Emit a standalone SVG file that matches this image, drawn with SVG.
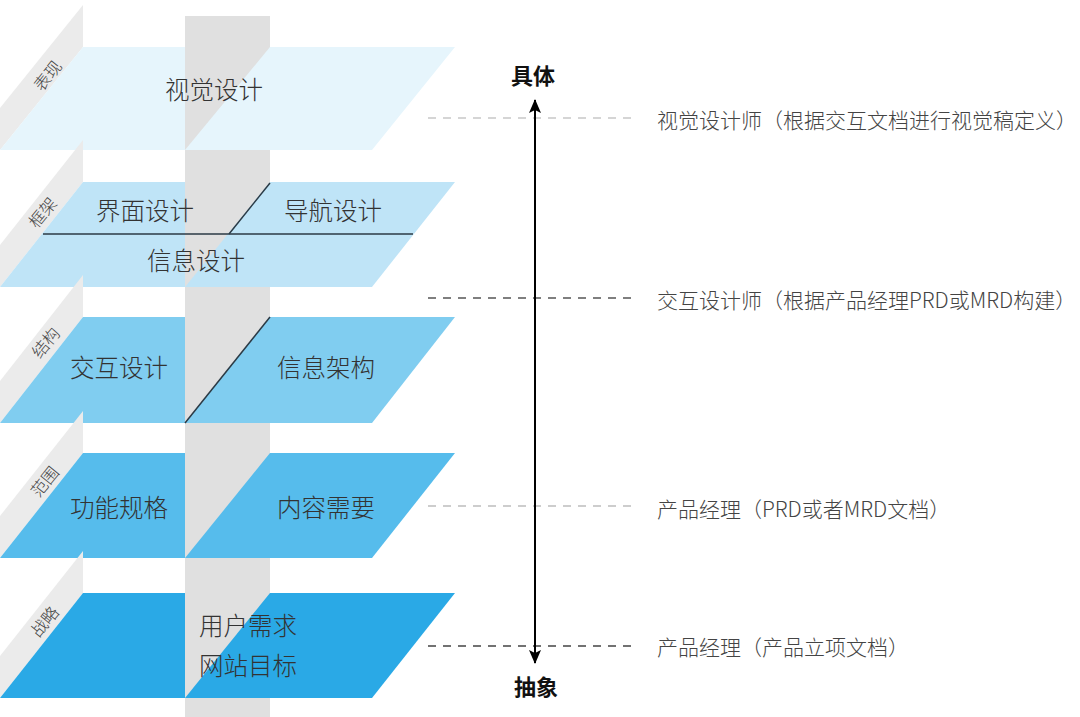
<svg xmlns="http://www.w3.org/2000/svg" width="1080" height="717" viewBox="0 0 1080 717">
<defs>
<style>
.band{fill:#ebebeb}
.col{fill:#e0e0e0}
.l1{fill:#e6f5fc}
.l2{fill:#bfe4f7}
.l3{fill:#80cdf0}
.l4{fill:#56bcec}
.l5{fill:#2aa9e6}
.t{font-family:"Noto Sans CJK SC","Noto Sans",sans-serif;font-size:24.5px;font-weight:300;fill:#333;dominant-baseline:central}
.lab{font-family:"Noto Sans CJK SC","Noto Sans",sans-serif;font-size:16.5px;font-weight:300;fill:#444;text-anchor:middle;dominant-baseline:central}
.r{font-family:"Noto Sans CJK SC","Noto Sans",sans-serif;font-size:21px;font-weight:300;fill:#444;dominant-baseline:central}
.ax{font-family:"Noto Sans CJK SC","Noto Sans",sans-serif;font-size:22px;font-weight:bold;fill:#111;text-anchor:middle;dominant-baseline:central}
.dk{stroke:#2b3a45;stroke-width:1.5;fill:none}
</style>
<marker id="ah" viewBox="0 0 14 14" refX="13" refY="7" markerWidth="14" markerHeight="14" markerUnits="userSpaceOnUse" orient="auto">
<path d="M0,1 L14,7 L0,13 L3,7 Z" fill="#000"/>
</marker>
</defs>
<rect width="1080" height="717" fill="#fff"/>
<rect class="col" x="185" y="16" width="85" height="701"/>

<g id="layer-biaoxian">
<polygon class="band" points="83,5 83,47 0,150 0,108"/>
<polygon class="l1" points="83,47 185,47 185,150 0,150"/>
<polygon class="l1" points="270,47 455,47 372,150 185,150"/>
<text class="lab" transform="translate(47,75) rotate(-51)">表现</text>
<text class="t" x="165" y="88">视觉设计</text>
</g>

<g id="layer-kuangjia">
<polygon class="band" points="83,140 83,182 0,287 0,245"/>
<polygon class="l2" points="83,182 185,182 185,287 0,287"/>
<polygon class="l2" points="270,182 455,182 372,287 185,287"/>
<line class="dk" x1="43" y1="234" x2="413" y2="234"/>
<line class="dk" x1="270" y1="183" x2="229" y2="234"/>
<text class="lab" transform="translate(42,212) rotate(-51)">框架</text>
<text class="t" x="96" y="209">界面设计</text>
<text class="t" x="284" y="209">导航设计</text>
<text class="t" x="147" y="259">信息设计</text>
</g>

<g id="layer-jiegou">
<polygon class="band" points="83,275 83,317 0,423 0,381"/>
<polygon class="l3" points="83,317 185,317 185,423 0,423"/>
<polygon class="l3" points="270,317 455,317 372,423 185,423"/>
<line class="dk" x1="270" y1="317" x2="185" y2="423"/>
<text class="lab" transform="translate(45,342) rotate(-51)">结构</text>
<text class="t" x="70" y="366">交互设计</text>
<text class="t" x="277" y="366">信息架构</text>
</g>

<g id="layer-fanwei">
<polygon class="band" points="83,411 83,453 0,558 0,516"/>
<polygon class="l4" points="83,453 185,453 185,558 0,558"/>
<polygon class="l4" points="270,453 455,453 372,558 185,558"/>
<text class="lab" transform="translate(44,481) rotate(-51)">范围</text>
<text class="t" x="70" y="506">功能规格</text>
<text class="t" x="277" y="506">内容需要</text>
</g>

<g id="layer-zhanlue">
<polygon class="band" points="83,551 83,593 0,698 0,656"/>
<polygon class="l5" points="83,593 185,593 185,698 0,698"/>
<polygon class="l5" points="270,593 455,593 372,698 185,698"/>
<text class="lab" transform="translate(44,621) rotate(-51)">战略</text>
<text class="t" x="199" y="624">用户需求</text>
<text class="t" x="199" y="664">网站目标</text>
</g>

<g id="connectors">
<line x1="428" y1="118" x2="632" y2="118" stroke="#c8c8c8" stroke-width="1.3" stroke-dasharray="8,7"/>
<line x1="428" y1="298" x2="632" y2="298" stroke="#555" stroke-width="1.3" stroke-dasharray="8,7"/>
<line x1="428" y1="506" x2="632" y2="506" stroke="#bdbdbd" stroke-width="1.3" stroke-dasharray="8,7"/>
<line x1="428" y1="646" x2="632" y2="646" stroke="#444" stroke-width="1.3" stroke-dasharray="8,7"/>
<line x1="535" y1="380" x2="535" y2="100" stroke="#000" stroke-width="2" marker-end="url(#ah)"/>
<line x1="535" y1="380" x2="535" y2="663" stroke="#000" stroke-width="2" marker-end="url(#ah)"/>
</g>

<g id="axis-labels">
<text class="ax" x="533" y="74">具体</text>
<text class="ax" x="536" y="685">抽象</text>
</g>

<g id="roles">
<text class="r" x="657" y="119">视觉设计师（根据交互文档进行视觉稿定义）</text>
<text class="r" x="657" y="299">交互设计师（根据产品经理PRD或MRD构建）</text>
<text class="r" x="657" y="508">产品经理（PRD或者MRD文档）</text>
<text class="r" x="657" y="646">产品经理（产品立项文档）</text>
</g>
</svg>
